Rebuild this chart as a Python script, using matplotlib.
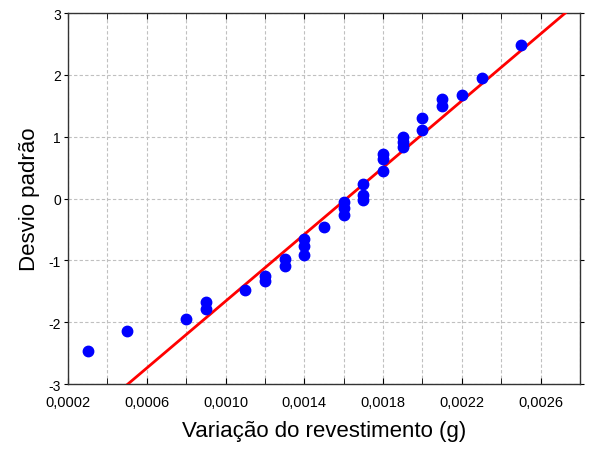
import matplotlib
matplotlib.use("Agg")
import matplotlib.pyplot as plt
from matplotlib.ticker import MultipleLocator, FixedLocator, FuncFormatter

plt.rcParams['font.family'] = ['Liberation Sans', 'DejaVu Sans']

# valores observados (g) e escores normais
variacao = [0.0003, 0.0005, 0.0008, 0.0009, 0.0009, 0.0011, 0.0012, 0.0012,
            0.0013, 0.0013, 0.0014, 0.0014, 0.0014, 0.0015, 0.0016, 0.0016,
            0.0016, 0.0017, 0.0017, 0.0017, 0.0018, 0.0018, 0.0018, 0.0019,
            0.0019, 0.0019, 0.0020, 0.0020, 0.0021, 0.0021, 0.0022, 0.0023,
            0.0025]
desvio = [-2.47, -2.14, -1.94, -1.79, -1.67, -1.48, -1.33, -1.25,
          -1.09, -0.97, -0.91, -0.76, -0.65, -0.46, -0.26, -0.15,
          -0.06, -0.03, 0.05, 0.24, 0.45, 0.64, 0.72, 0.84,
          0.91, 0.99, 1.11, 1.30, 1.49, 1.61, 1.68, 1.95,
          2.49]

# reta de normalidade esperada
reta_x = [0.000504, 0.002725]
reta_y = [-3, 3]

# rotulos do eixo x
x_ticks = [0.0002, 0.0006, 0.0010, 0.0014, 0.0018, 0.0022, 0.0026]

fig = plt.figure(figsize=(6, 4.52), dpi=100)
ax = fig.add_axes([0.1133, 0.148, 0.8534, 0.821])

ax.plot(reta_x, reta_y, color='#ff0000', lw=2, zorder=3)
ax.plot(variacao, desvio, 'o', color='#0000ff', ms=7.5, mec='#0000ff', zorder=4)

ax.set_xlim(0.0002, 0.0028)
ax.set_ylim(-3, 3)
ax.xaxis.set_major_locator(FixedLocator(x_ticks))
ax.xaxis.set_minor_locator(MultipleLocator(0.0002))
ax.yaxis.set_major_locator(MultipleLocator(1))
ax.xaxis.set_major_formatter(FuncFormatter(lambda v, p: f"{v:.4f}".replace('.', ',')))
ax.yaxis.set_major_formatter(FuncFormatter(lambda v, p: f"{v:.0f}"))

ax.grid(True, which='both', ls=(0, (3, 2)), color='#c0c0c0', lw=0.8)
ax.set_axisbelow(True)
ax.tick_params(axis='x', which='both', direction='in', top=True, length=4, labelsize=10.5, pad=8)
ax.tick_params(axis='y', direction='out', right=True, length=3, labelsize=10, pad=2)
for s in ax.spines.values():
    s.set_color('#333333')
    s.set_linewidth(1)

ax.set_xlabel("Variação do revestimento (g)", fontsize=16, labelpad=8)
ax.set_ylabel("Desvio padrão", fontsize=16, labelpad=6)

plt.savefig("out.png", dpi=100)
